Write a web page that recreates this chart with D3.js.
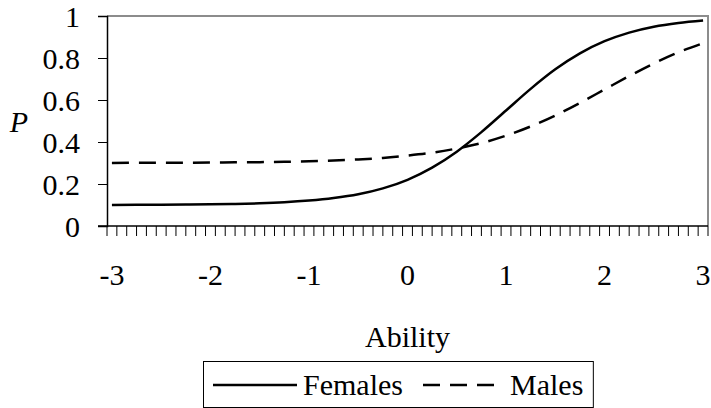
<!DOCTYPE html>
<html>
<head>
<meta charset="utf-8">
<script src="https://cdn.jsdelivr.net/npm/d3@7"></script>
<style>
  body { margin: 0; background: #fff; }
  text { font-family: "Liberation Serif", "Times New Roman", serif; fill: #000; }
</style>
</head>
<body>
<div id="chart"></div>
<script>
// ability values (every 0.25)
var ability = [-3, -2.75, -2.5, -2.25, -2, -1.75, -1.5, -1.25, -1, -0.75, -0.5, -0.25,
  0, 0.25, 0.5, 0.75, 1, 1.25, 1.5, 1.75, 2, 2.25, 2.5, 2.75, 3];
var females = [0.100, 0.101, 0.101, 0.102, 0.103, 0.105, 0.108, 0.113, 0.121, 0.133, 0.151, 0.179,
  0.220, 0.278, 0.354, 0.447, 0.550, 0.653, 0.746, 0.822, 0.880, 0.921, 0.949, 0.967, 0.979];
var males = [0.300, 0.301, 0.301, 0.301, 0.302, 0.303, 0.304, 0.306, 0.308, 0.312, 0.317, 0.324,
  0.335, 0.349, 0.369, 0.395, 0.430, 0.474, 0.526, 0.586, 0.650, 0.714, 0.774, 0.827, 0.870];
var xLabels = [-3, -2, -1, 0, 1, 2, 3];
var yTicks = [0, 0.2, 0.4, 0.6, 0.8, 1];
var nCategories = 61; // -3 .. 3 by 0.1

var width = 711, height = 408;
var plotLeft = 107, plotRight = 708, plotTop = 16, plotBottom = 226;
var fontSize = "30px";

var svg = d3.select("#chart").append("svg")
  .attr("width", width)
  .attr("height", height);

// category axis: 61 bands, labels every tenth band
var band = d3.scaleBand().domain(d3.range(nCategories)).range([plotLeft, plotRight]);
var x = d3.scaleLinear().domain([-3, 3])
  .range([plotLeft + band.bandwidth() / 2, plotRight - band.bandwidth() / 2]);
var y = d3.scaleLinear().domain([0, 1]).range([plotBottom, plotTop]);

// plot area border (grey top and right)
svg.append("path")
  .attr("d", "M" + plotLeft + "," + plotTop + "H" + plotRight + "V" + plotBottom)
  .attr("fill", "none")
  .attr("stroke", "#8c8c8c")
  .attr("stroke-width", 2);

// y axis
var yAxis = svg.append("g")
  .attr("transform", "translate(" + plotLeft + ",0)")
  .call(d3.axisLeft(y).tickValues(yTicks).tickSize(9).tickPadding(18)
    .tickFormat(function(d) { return d3.format("")(d); }));
yAxis.select(".domain").attr("stroke", "#000").attr("stroke-width", 1.5);
yAxis.selectAll(".tick line").attr("stroke", "#000");
yAxis.selectAll("text")
  .style("font-family", "Liberation Serif")
  .style("font-size", fontSize)
  .attr("dy", "0.34em");

// x axis: minor ticks at band edges
var edges = d3.range(nCategories + 1).map(function(i) { return plotLeft + i * band.step(); });
var xAxis = svg.append("g");
xAxis.selectAll("line.tk")
  .data(edges)
  .enter().append("line")
  .attr("class", "tk")
  .attr("x1", function(d) { return d; })
  .attr("x2", function(d) { return d; })
  .attr("y1", plotBottom)
  .attr("y2", plotBottom + 10)
  .attr("stroke", "#000")
  .attr("stroke-width", 1);
xAxis.append("line")
  .attr("x1", plotLeft - 9).attr("x2", plotRight)
  .attr("y1", plotBottom).attr("y2", plotBottom)
  .attr("stroke", "#000").attr("stroke-width", 1.5);
xAxis.selectAll("text")
  .data(xLabels)
  .enter().append("text")
  .attr("x", function(d) { return x(d); })
  .attr("y", 285)
  .attr("text-anchor", "middle")
  .style("font-size", fontSize)
  .text(function(d) { return d; });

// axis titles
svg.append("text")
  .attr("x", 19).attr("y", 132)
  .attr("text-anchor", "middle")
  .style("font-size", fontSize)
  .style("font-style", "italic")
  .text("P");

svg.append("text")
  .attr("x", (plotLeft + plotRight) / 2).attr("y", 347)
  .attr("text-anchor", "middle")
  .style("font-size", fontSize)
  .text("Ability");

// lines
var line = function(vals) {
  return d3.line()
    .x(function(d, i) { return x(ability[i]); })
    .y(function(d) { return y(d); })
    .curve(d3.curveMonotoneX)(vals);
};

svg.append("path")
  .attr("d", line(males))
  .attr("fill", "none")
  .attr("stroke", "#000")
  .attr("stroke-width", 2.5)
  .attr("stroke-dasharray", "17,10");

svg.append("path")
  .attr("d", line(females))
  .attr("fill", "none")
  .attr("stroke", "#000")
  .attr("stroke-width", 2.5);

// legend
var lg = svg.append("g");
var box = lg.append("rect")
  .attr("x", 203.5).attr("y", 361.5)
  .attr("height", 46)
  .attr("fill", "#fff")
  .attr("stroke", "#000")
  .attr("stroke-width", 1);

lg.append("line")
  .attr("x1", 213).attr("x2", 297)
  .attr("y1", 385).attr("y2", 385)
  .attr("stroke", "#000").attr("stroke-width", 2.5);
lg.append("text")
  .attr("x", 303).attr("y", 395)
  .style("font-size", fontSize)
  .text("Females");
lg.append("line")
  .attr("x1", 423).attr("x2", 497)
  .attr("y1", 385).attr("y2", 385)
  .attr("stroke", "#000").attr("stroke-width", 2.5)
  .attr("stroke-dasharray", "17,10");
var mt = lg.append("text")
  .attr("x", 510).attr("y", 395)
  .style("font-size", fontSize)
  .text("Males");
box.attr("width", 510 + mt.node().getComputedTextLength() + 10 - 203.5);
</script>
</body>
</html>
